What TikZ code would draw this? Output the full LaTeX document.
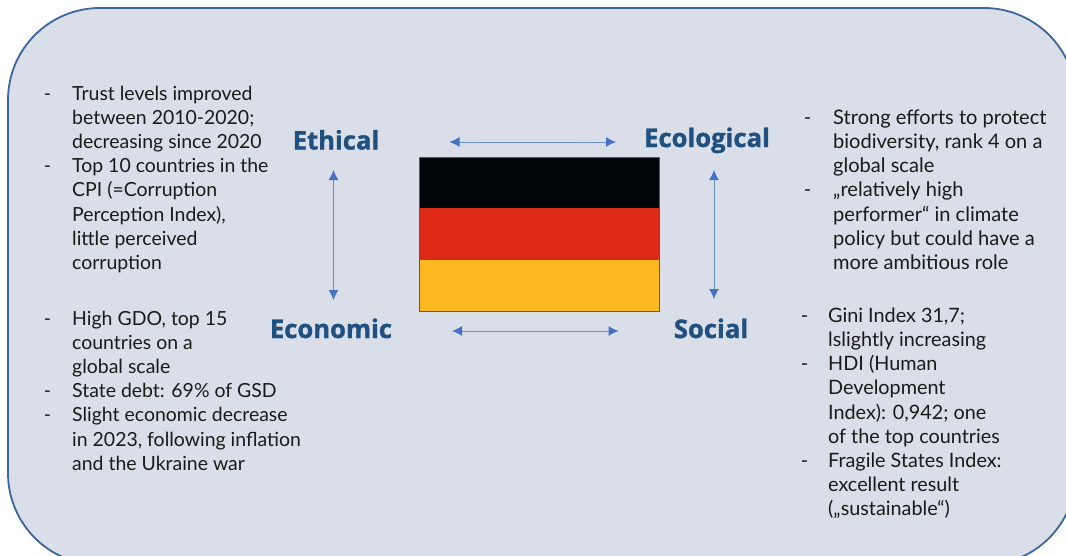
\documentclass[tikz,border=0pt]{standalone}
\usepackage{fontspec}
\setmainfont{Lato}
\newfontfamily\headfont[BoldFeatures={FakeBold=1.2}]{Open Sans}
\newcommand{\dashitem}[1]{\llap{-\hspace{#1}}}
\definecolor{panelfill}{HTML}{DADEE8}
\definecolor{panelline}{HTML}{3D659F}
\definecolor{headblue}{HTML}{1F5080}
\definecolor{arrowblue}{HTML}{4472C4}
\definecolor{bodyink}{HTML}{1A1A1A}
\definecolor{flagred}{HTML}{DD2A17}
\definecolor{flaggold}{HTML}{FDB81F}
\definecolor{flagblack}{HTML}{010409}
\usetikzlibrary{arrows.meta}
\tikzset{
  bodytext/.style={anchor=north west,inner sep=0pt,align=left,text=bodyink,
    font=\fontsize{#1}{24.2}\selectfont},
  headtext/.style={anchor=base,inner sep=0pt,text=headblue,font=\headfont\bfseries\fontsize{25.6}{28}\selectfont},
  linkarrow/.style={draw=arrowblue!75!panelfill,line width=1pt,
    {Latex[length=10pt,width=10pt,color=arrowblue]}-{Latex[length=10pt,width=10pt,color=arrowblue]}},
  band/.style={minimum width=240pt,minimum height=51.5pt,inner sep=0pt,outer sep=0pt,anchor=north west}
}
\begin{document}
\begin{tikzpicture}[x=1pt,y=-1pt]
\useasboundingbox (0,0) rectangle (1066,555);
\fill[white] (0,0) rectangle (1066,555);
\begin{scope}
\clip (0,0) rectangle (1066,555);
\draw[panelline,fill=panelfill,line width=1.8pt,rounded corners=92pt] (8,8) rectangle (1076,565);
\end{scope}
% flag
\node[band,fill=flagblack] (black) at (419,157) {};
\node[band,fill=flagred] (red) at (419,208) {};
\node[band,fill=flaggold] (gold) at (419,259.5) {};
\draw[black!65,line width=.8pt] (black.north west) rectangle (gold.south east);
% headings
\node[headtext] (ethical) at (336,149.5) {Ethical};
\node[headtext] (ecological) at (707,147) {Ecological};
\node[headtext] (economic) at (331,338) {Economic};
\node[headtext] (social) at (711,338) {Social};
% arrow ends
\coordinate (ta) at (449.5,142); \coordinate (tb) at (616,142);
\coordinate (ba) at (452,331); \coordinate (bb) at (618.5,331);
\coordinate (la) at (333.5,170); \coordinate (lb) at (333.5,300);
\coordinate (ra) at (714,170); \coordinate (rb) at (714,299);
\draw[linkarrow] (ta) -- (tb);
\draw[linkarrow] (ba) -- (bb);
\draw[linkarrow] (la) -- (lb);
\draw[linkarrow] (ra) -- (rb);
% text blocks
\node[bodytext=19.45] (tl) at (72,85.5) {\dashitem{21pt}Trust levels improved\\between 2010-2020;\\decreasing since 2020\\\dashitem{21pt}Top 10 countries in the\\CPI (=Corruption\\Perception Index),\\little perceived\\corruption};
\node[bodytext=19.45] (bl) at (72,310.5) {\dashitem{21pt}High GDO, top 15\\countries on a\\global scale\\\dashitem{21pt}State debt: 69\% of GSD\\\dashitem{21pt}Slight economic decrease\\in 2023, following inflation\\and the Ukraine war};
\node[bodytext=20.05] (tr) at (833,109.5) {\dashitem{22pt}Strong efforts to protect\\biodiversity, rank 4 on a\\global scale\\\dashitem{22pt}„relatively high\\performer“ in climate\\policy but could have a\\more ambitious role};
\node[bodytext=19.8] (br) at (828,307.5) {\dashitem{20pt}Gini Index 31,7;\\lslightly increasing\\\dashitem{20pt}HDI (Human\\Development\\Index): 0,942; one\\of the top countries\\\dashitem{20pt}Fragile States Index:\\excellent result\\(„sustainable“)};
\end{tikzpicture}
\end{document}
